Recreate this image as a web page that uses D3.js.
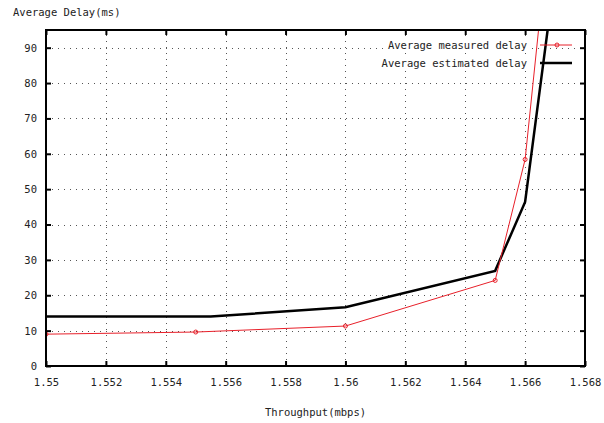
<!DOCTYPE html>
<html>
<head>
<meta charset="utf-8">
<script src="https://cdn.jsdelivr.net/npm/d3@7"></script>
<style>
  body { margin: 0; background: #fff; }
  text { font-family: "DejaVu Sans Mono", monospace; font-size: 10.5px; fill: #222; }
</style>
</head>
<body>
<div id="chart"></div>
<script>
// data
var measuredX = [1.55, 1.555, 1.56, 1.565, 1.566, 1.567]
var measuredY = [9.0, 9.6, 11.3, 24.2, 58.4, 140]
var estimatedX = [1.55, 1.5555, 1.56, 1.565, 1.566, 1.567]
var estimatedY = [14.0, 14.0, 16.6, 26.9, 46.4, 111]
var xTicks = [1.55, 1.552, 1.554, 1.556, 1.558, 1.56, 1.562, 1.564, 1.566, 1.568]
var yTicks = [0, 10, 20, 30, 40, 50, 60, 70, 80, 90]
var seriesNames = ["Average measured delay", "Average estimated delay"]

var width = 604, height = 423
var margin = { top: 30, right: 19, bottom: 57, left: 46 }

var svg = d3.select("#chart").append("svg")
  .attr("width", width)
  .attr("height", height)

var x = d3.scaleLinear().domain([1.55, 1.568]).range([margin.left, width - margin.right])
var y = d3.scaleLinear().domain([0, 95]).range([height - margin.bottom, margin.top])

var x0 = x.range()[0], x1 = x.range()[1], y0 = y.range()[0], y1 = y.range()[1]

// clip
svg.append("clipPath").attr("id", "plot")
  .append("rect").attr("x", x0).attr("y", y1).attr("width", x1 - x0).attr("height", y0 - y1)

// grid
var grid = svg.append("g").attr("stroke", "#555").attr("stroke-width", 1).attr("stroke-dasharray", "1,5")
grid.selectAll(".gx").data(xTicks.slice(1, -1)).enter().append("line")
  .attr("x1", d => Math.round(x(d)) + 0.5).attr("x2", d => Math.round(x(d)) + 0.5)
  .attr("y1", y0).attr("y2", y1)
grid.selectAll(".gy").data(yTicks.slice(1)).enter().append("line")
  .attr("y1", d => Math.round(y(d)) + 0.5).attr("y2", d => Math.round(y(d)) + 0.5)
  .attr("x1", x0).attr("x2", x1)

// axes (ticks inward, mirrored)
var xAxis = d3.axisBottom(x).tickValues(xTicks).tickSize(-5).tickPadding(13).tickFormat(d => +d.toFixed(3))
var yAxis = d3.axisLeft(y).tickValues(yTicks).tickSize(-5).tickPadding(9)

svg.append("g").attr("transform", `translate(0,${y0})`).call(xAxis)
svg.append("g").attr("transform", `translate(${x0},0)`).call(yAxis)
svg.append("g").attr("transform", `translate(0,${y1})`).call(d3.axisTop(x).tickValues(xTicks).tickSize(-5).tickFormat(""))
svg.append("g").attr("transform", `translate(${x1},0)`).call(d3.axisRight(y).tickValues(yTicks).tickSize(-5).tickFormat(""))

svg.selectAll(".domain").remove()
svg.selectAll(".tick line").attr("stroke", "#000").attr("stroke-width", 2)
svg.selectAll(".tick text").style("font-size", "10.5px").style("font-family", "DejaVu Sans Mono, monospace").attr("fill", "#222")

// lines
var line = d3.line().x(d => x(d[0])).y(d => y(d[1]))
var measured = measuredX.map((v, i) => [v, measuredY[i]])
var estimated = estimatedX.map((v, i) => [v, estimatedY[i]])

var plot = svg.append("g").attr("clip-path", "url(#plot)")

plot.append("path").datum(estimated)
  .attr("d", line).attr("fill", "none").attr("stroke", "#000").attr("stroke-width", 2.5)

plot.append("path").datum(measured)
  .attr("d", line).attr("fill", "none").attr("stroke", "#e8202a").attr("stroke-width", 1)

plot.selectAll(".pt").data(measured).enter().append("circle")
  .attr("cx", d => x(d[0])).attr("cy", d => y(d[1])).attr("r", 2)
  .attr("fill", "none").attr("stroke", "#e8202a").attr("stroke-width", 1)

// border
svg.append("rect").attr("x", x0).attr("y", y1).attr("width", x1 - x0).attr("height", y0 - y1)
  .attr("fill", "none").attr("stroke", "#000").attr("stroke-width", 2)

// legend
var legend = svg.append("g")
var rows = [
  { name: seriesNames[0], color: "#e8202a", w: 1, marker: true, y: 45 },
  { name: seriesNames[1], color: "#000", w: 2.5, marker: false, y: 63 }
]
rows.forEach(r => {
  var t = legend.append("text").attr("x", 527).attr("y", r.y).attr("dy", "0.35em")
    .attr("text-anchor", "end").text(r.name)
  var b = t.node().getBBox()
  legend.insert("rect", "text").attr("x", b.x - 1).attr("y", b.y).attr("width", b.width + 2).attr("height", b.height)
    .attr("fill", "#fff")
  legend.append("line").attr("x1", 540).attr("x2", 572).attr("y1", r.y).attr("y2", r.y)
    .attr("stroke", r.color).attr("stroke-width", r.w)
  if (r.marker) legend.append("circle").attr("cx", 557).attr("cy", r.y).attr("r", 2)
    .attr("fill", "none").attr("stroke", r.color)
})

// titles
svg.append("text").attr("x", 13).attr("y", 16).text("Average Delay(ms)")
svg.append("text").attr("x", (x0 + x1) / 2).attr("y", 416).attr("text-anchor", "middle").text("Throughput(mbps)")
</script>
</body>
</html>
